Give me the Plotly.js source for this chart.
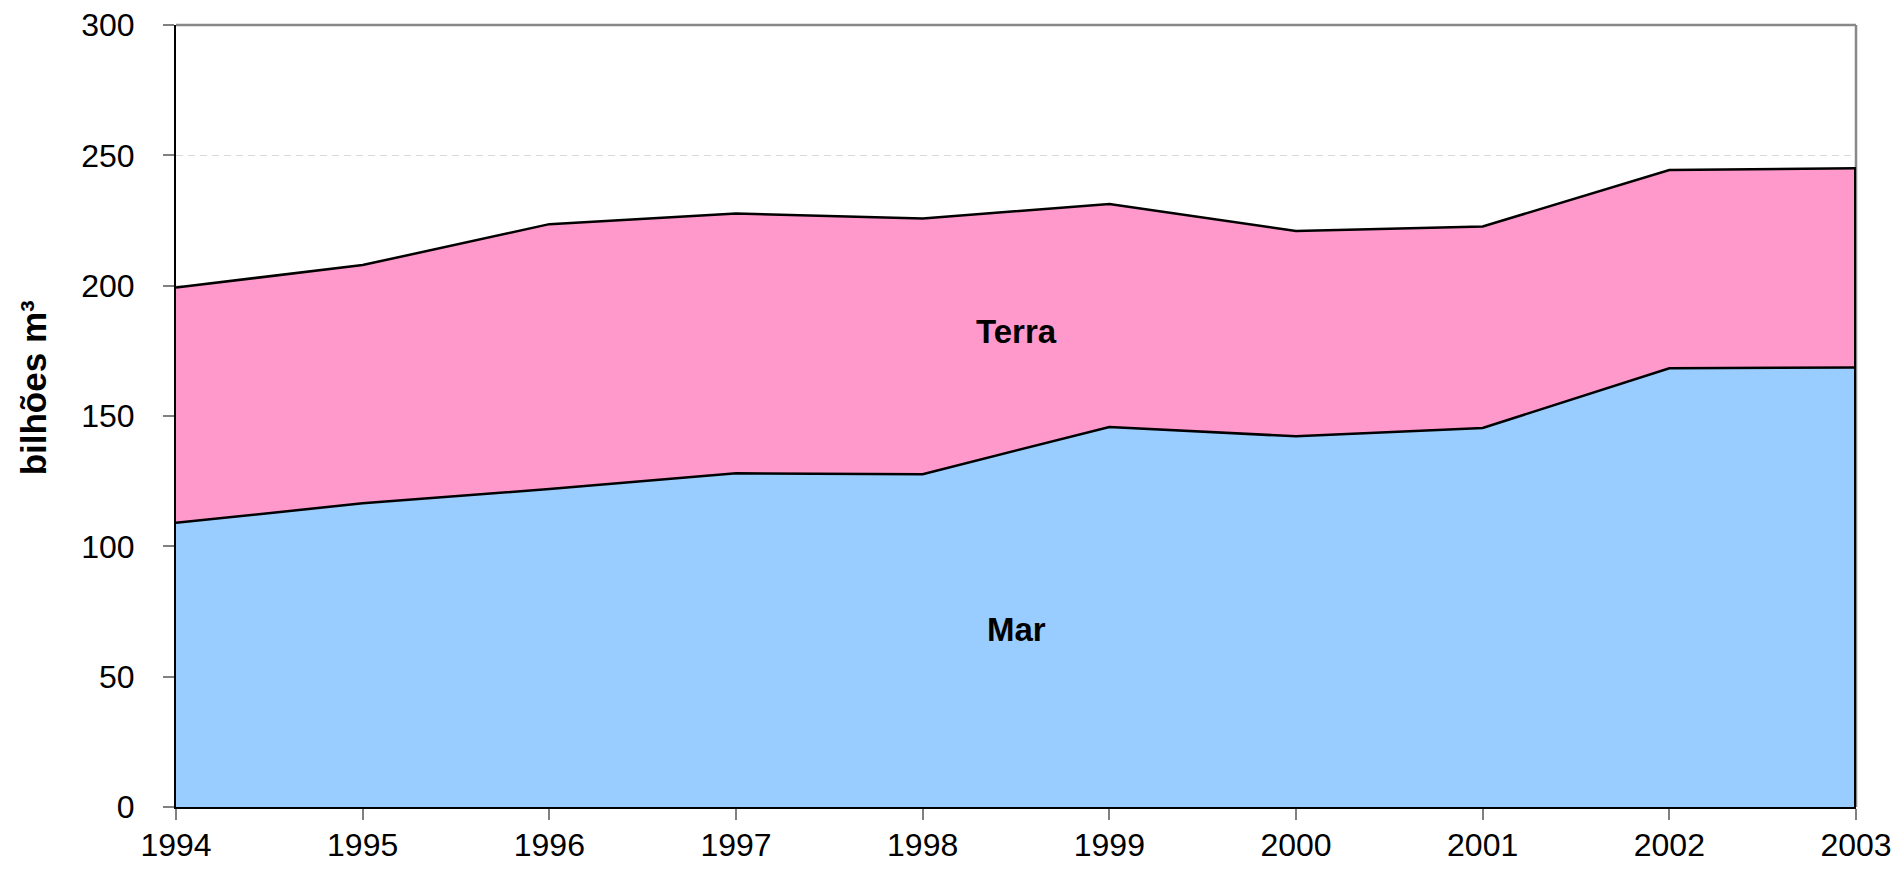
<!DOCTYPE html>
<html>
<head>
<meta charset="utf-8">
<script src="https://cdn.plot.ly/plotly-3.0.1.min.js"></script>
<style>html,body{margin:0;padding:0;background:#fff;}#chart{width:1901px;height:877px;}</style>
</head>
<body>
<div id="chart"></div>
<script>
var years = [1994, 1995, 1996, 1997, 1998, 1999, 2000, 2001, 2002, 2003];
var mar = [109.0, 116.5, 122.0, 128.0, 127.7, 145.8, 142.2, 145.4, 168.3, 168.6];
var terra = [90.3, 91.4, 101.6, 99.7, 98.1, 85.5, 78.8, 77.3, 76.1, 76.4];
var seriesNames = ["Mar", "Terra"];
var yTitle = "bilhões m³";

var FONT = "Liberation Sans, Arial, sans-serif";
var last = years.length - 1;
var totalLast = mar[last] + terra[last];

var traces = [
  {x: years, y: mar, name: seriesNames[0], type: "scatter", mode: "lines", stackgroup: "one",
   fillcolor: "#99CCFF", line: {color: "#000000", width: 2.5}, hoverinfo: "skip"},
  {x: years, y: terra, name: seriesNames[1], type: "scatter", mode: "lines", stackgroup: "one",
   fillcolor: "#FF99CC", line: {color: "#000000", width: 2.5}, hoverinfo: "skip"},
  {x: [years[last], years[last]], y: [0, totalLast], type: "scatter", mode: "lines",
   line: {color: "#000000", width: 4}, hoverinfo: "skip", showlegend: false}
];

var layout = {
  width: 1901, height: 877,
  margin: {l: 176, r: 45, t: 25, b: 70},
  paper_bgcolor: "#ffffff", plot_bgcolor: "#ffffff",
  showlegend: false,
  font: {family: FONT, size: 32, color: "#000000"},
  xaxis: {
    range: [years[0], years[last]], tickvals: years, ticktext: years.map(String),
    ticks: "outside", ticklen: 11, tickwidth: 2, tickcolor: "#808080",
    showline: true, linecolor: "#000000", linewidth: 2,
    showgrid: false, zeroline: false, ticklabelstandoff: -2,
    tickfont: {family: FONT, size: 32, color: "#000000"}
  },
  yaxis: {
    range: [0, 300], dtick: 50, tick0: 0,
    ticks: "outside", ticklen: 11, tickwidth: 2, tickcolor: "#808080",
    showline: true, linecolor: "#000000", linewidth: 2,
    showgrid: true, gridcolor: "#d9d9d9", gridwidth: 1.5, griddash: "7px,5px",
    zeroline: false, ticklabelstandoff: 22,
    tickfont: {family: FONT, size: 32, color: "#000000"}
  },
  shapes: [
    {type: "line", xref: "paper", yref: "paper", x0: 0, x1: 1, y0: 1, y1: 1, line: {color: "#888888", width: 2.5}},
    {type: "line", xref: "paper", yref: "paper", x0: 1, x1: 1, y0: 0, y1: 1, line: {color: "#888888", width: 2.5}, layer: "below"}
  ],
  annotations: [
    {x: -0.085, y: 0.5356, xref: "paper", yref: "paper", text: "<b>" + yTitle + "</b>", textangle: -90,
     showarrow: false, xanchor: "center", yanchor: "middle",
     font: {family: FONT, size: 35, color: "#000000"}},
    {x: 1998.5, y: 182.5, xref: "x", yref: "y", text: "<b>" + seriesNames[1] + "</b>", showarrow: false,
     font: {family: FONT, size: 33, color: "#000000"}},
    {x: 1998.5, y: 68, xref: "x", yref: "y", text: "<b>" + seriesNames[0] + "</b>", showarrow: false,
     font: {family: FONT, size: 33, color: "#000000"}}
  ]
};

Plotly.newPlot("chart", traces, layout, {displayModeBar: false, staticPlot: true});
</script>
</body>
</html>
